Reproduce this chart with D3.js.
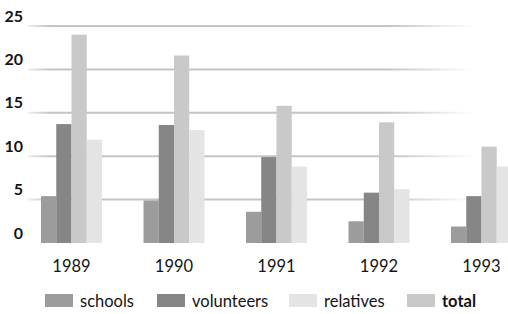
<!DOCTYPE html>
<html>
<head>
<meta charset="utf-8">
<script src="https://cdn.jsdelivr.net/npm/d3@7"></script>
<style>
  body { margin: 0; background: #fff; }
  text { font-family: Lato, "Open Sans", sans-serif; fill: #141414; }
</style>
</head>
<body>
<div id="chart"></div>
<script>
// data
var years = ["1989", "1990", "1991", "1992", "1993"];
var seriesNames = ["schools", "volunteers", "relatives", "total"];
var barOrder = ["schools", "volunteers", "total", "relatives"];
var schools = [5.4, 4.9, 3.6, 2.5, 1.9];
var volunteers = [13.7, 13.6, 9.9, 5.8, 5.4];
var relatives = [11.9, 13.0, 8.8, 6.2, 8.8];
var total = [24.0, 21.6, 15.8, 13.9, 11.1];
var yTicks = [0, 5, 10, 15, 20, 25];

var values = { schools: schools, volunteers: volunteers, relatives: relatives, total: total };
var colors = { schools: "#9c9c9c", volunteers: "#868686", relatives: "#e4e4e4", total: "#c9c9c9" };

var width = 508, height = 314;

var svg = d3.select("#chart")
  .append("svg")
  .attr("width", width)
  .attr("height", height);

// fading grid line gradient
var defs = svg.append("defs");
var grad = defs.append("linearGradient")
  .attr("id", "gridFade")
  .attr("gradientUnits", "userSpaceOnUse")
  .attr("x1", 28).attr("x2", 475).attr("y1", 0).attr("y2", 0);
grad.append("stop").attr("offset", "0").attr("stop-color", "#c4c4c4").attr("stop-opacity", 0.3);
grad.append("stop").attr("offset", "0.05").attr("stop-color", "#c4c4c4").attr("stop-opacity", 1);
grad.append("stop").attr("offset", "0.8").attr("stop-color", "#c4c4c4").attr("stop-opacity", 1);
grad.append("stop").attr("offset", "1").attr("stop-color", "#c4c4c4").attr("stop-opacity", 0);

var yScale = d3.scaleLinear().domain([0, 25]).range([243, 26]);

var x0 = d3.scaleBand()
  .domain(years)
  .range([20.25, 532.75])
  .paddingInner(0.405)
  .paddingOuter(0.2025);

var x1 = d3.scaleBand()
  .domain(barOrder)
  .range([0, x0.bandwidth()]);

// grid lines (no line at 0)
svg.append("g").attr("class", "grid")
  .selectAll("line")
  .data(yTicks.filter(function(d) { return d > 0; }))
  .enter()
  .append("line")
  .attr("x1", 28)
  .attr("x2", 475)
  .attr("y1", function(d) { return yScale(d); })
  .attr("y2", function(d) { return yScale(d); })
  .attr("stroke", "url(#gridFade)")
  .attr("stroke-width", 2);

// y labels
svg.append("g").attr("class", "yLabels")
  .selectAll("text")
  .data(yTicks)
  .enter()
  .append("text")
  .attr("x", 23)
  .attr("y", function(d) { return yScale(d) - 4.5; })
  .attr("text-anchor", "end")
  .attr("font-size", 16)
  .attr("font-weight", "bold")
  .text(function(d) { return d; });

// bars
var groups = svg.append("g").attr("class", "bars")
  .selectAll("g")
  .data(years)
  .enter()
  .append("g")
  .attr("transform", function(d) { return "translate(" + x0(d) + ",0)"; });

groups.selectAll("rect")
  .data(function(d, i) {
    return barOrder.map(function(k) { return { key: k, value: values[k][i] }; });
  })
  .enter()
  .append("rect")
  .attr("x", function(d) { return x1(d.key); })
  .attr("width", x1.bandwidth())
  .attr("y", function(d) { return yScale(d.value); })
  .attr("height", function(d) { return yScale(0) - yScale(d.value); })
  .attr("fill", function(d) { return colors[d.key]; });

// year labels
svg.append("g").attr("class", "xLabels")
  .selectAll("text")
  .data(years)
  .enter()
  .append("text")
  .attr("x", function(d) { return x0(d) + x0.bandwidth() / 2; })
  .attr("y", 272)
  .attr("text-anchor", "middle")
  .attr("font-size", 16.5)
  .text(function(d) { return d; });

// legend
var legendX = [45, 157, 289, 407];
var legend = svg.append("g").attr("class", "legend")
  .selectAll("g")
  .data(seriesNames)
  .enter()
  .append("g")
  .attr("transform", function(d, i) { return "translate(" + legendX[i] + ",294)"; });

legend.append("rect")
  .attr("width", 28)
  .attr("height", 13)
  .attr("fill", function(d) { return colors[d]; });

legend.append("text")
  .attr("x", 35)
  .attr("y", 13)
  .attr("font-size", 16.5)
  .attr("font-weight", function(d) { return d === "total" ? "bold" : "normal"; })
  .text(function(d) { return d; });
</script>
</body>
</html>
